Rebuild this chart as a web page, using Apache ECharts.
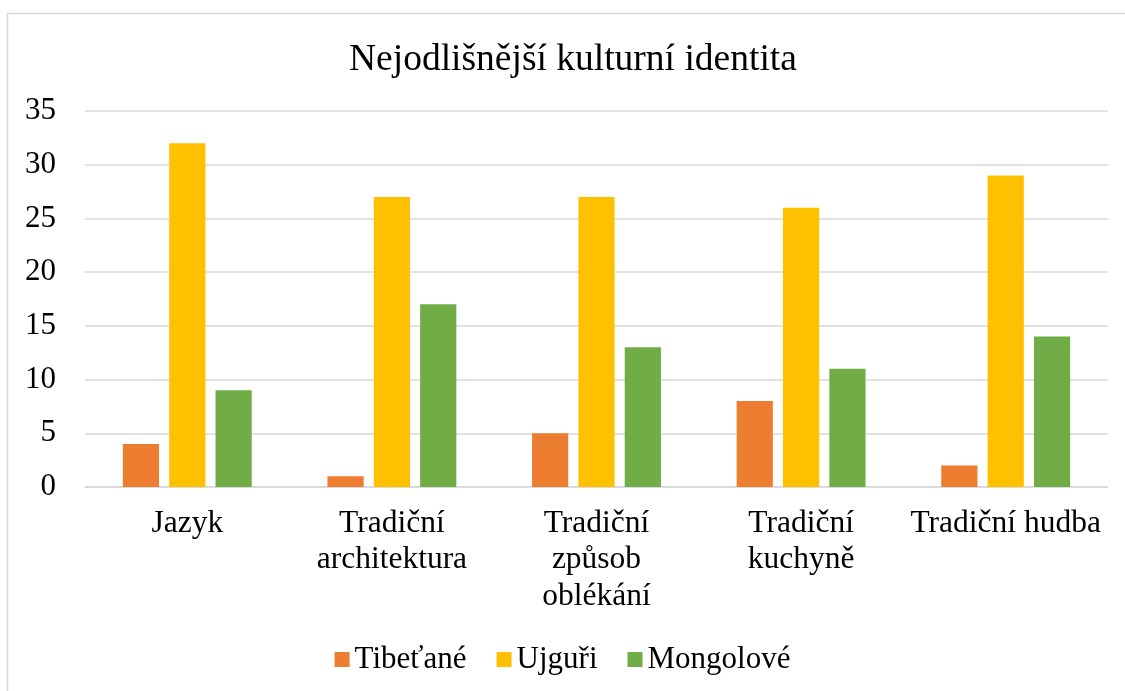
<!DOCTYPE html>
<html>
<head>
<meta charset="utf-8">
<script src="https://cdn.jsdelivr.net/npm/echarts@6/dist/echarts.min.js"></script>
<style>
html, body { margin: 0; padding: 0; background: #fff; }
#chart { width: 1125px; height: 691px; }
</style>
</head>
<body>
<div id="chart"></div>
<script>
const categories = ['Jazyk', 'Tradiční\narchitektura', 'Tradiční\nzpůsob\noblékání', 'Tradiční\nkuchyně', 'Tradiční hudba']
const seriesNames = ['Tibeťané', 'Ujguři', 'Mongolové']
const tibetane = [4, 1, 5, 8, 2]
const ujguri = [32, 27, 27, 26, 29]
const mongolove = [9, 17, 13, 11, 14]
const colors = ['#ED7D31', '#FFC000', '#70AD47']

const font = '"Liberation Serif", "Times New Roman", serif'

let chart = echarts.init(document.getElementById('chart'))
let option = {
    animation: false,
    textStyle: { fontFamily: font },
    graphic: [{
        type: 'rect',
        shape: { x: 7.5, y: 13.5, width: 1130, height: 700 },
        style: { fill: 'none', stroke: '#d9d9d9', lineWidth: 1.5 },
        silent: true
    }],
    title: {
        text: 'Nejodlišnější kulturní identita',
        left: 344,
        top: 36,
        textStyle: { fontFamily: font, fontSize: 37.5, fontWeight: 'normal', color: '#000' }
    },
    legend: {
        data: seriesNames,
        bottom: 11,
        left: 'center',
        itemWidth: 15,
        itemHeight: 15,
        itemGap: 30,
        icon: 'rect',
        textStyle: { fontFamily: font, fontSize: 31, color: '#000' }
    },
    grid: {
        left: 85,
        right: 17,
        top: 111,
        bottom: 204,
        containLabel: false
    },
    xAxis: {
        type: 'category',
        data: categories,
        axisTick: { show: false },
        axisLine: { lineStyle: { color: '#d9d9d9', width: 1.5 } },
        axisLabel: {
            fontFamily: font,
            fontSize: 31.5,
            color: '#000',
            lineHeight: 36.5,
            margin: 18,
            interval: 0
        }
    },
    yAxis: {
        type: 'value',
        min: 0,
        max: 35,
        interval: 5,
        axisLine: { show: false },
        axisTick: { show: false },
        splitLine: { lineStyle: { color: '#d9d9d9', width: 1.5 } },
        axisLabel: { fontFamily: font, fontSize: 31, color: '#000', margin: 29 }
    },
    series: [tibetane, ujguri, mongolove].map((d, i) => ({
        name: seriesNames[i],
        type: 'bar',
        data: d,
        barGap: '28%',
        barCategoryGap: '37%',
        itemStyle: { color: colors[i] }
    }))
}
chart.setOption(option)
</script>
</body>
</html>
